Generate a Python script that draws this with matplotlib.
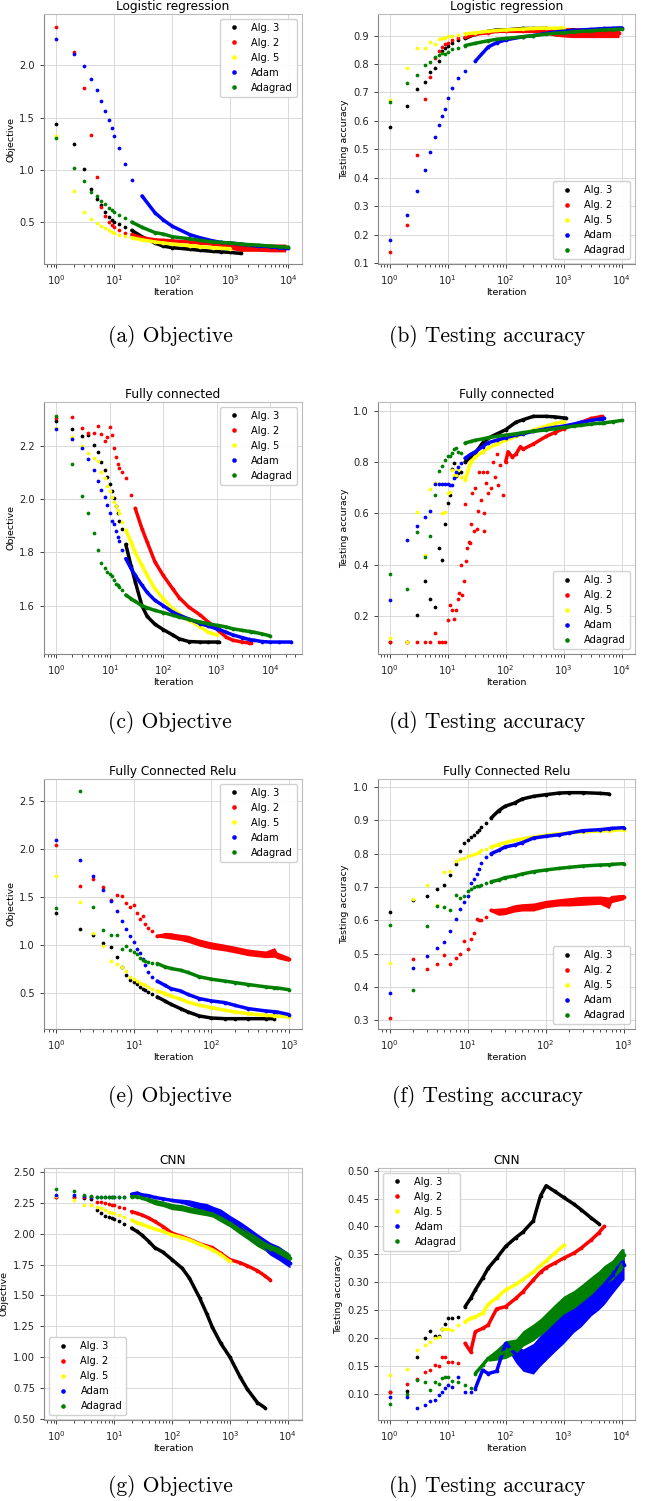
import numpy as np
import matplotlib.pyplot as plt
from matplotlib.lines import Line2D

nan = np.nan

names = ["Alg. 3", "Alg. 2", "Alg. 5", "Adam", "Adagrad"]
colors = ["black", "red", "yellow", "blue", "green"]

# ---------------- Logistic regression (a, b) ----------------
it1 = [1, 2, 3, 4, 5, 6, 7, 8, 9, 10, 12, 15, 20, 30, 50, 70, 100, 200, 300,
       500, 700, 1000, 1500, 2000, 3000, 5000, 7000, 9000, 10000]

a_alg3 = [1.44, 1.25, 1.01, 0.82, 0.72, 0.66, 0.60, 0.55, 0.52, 0.50, 0.48, 0.45, 0.42, 0.36, 0.30,
          0.27, 0.255, 0.24, 0.23, 0.22, 0.215, 0.21, 0.20, nan, nan, nan, nan, nan, nan]
a_alg2 = [2.37, 2.13, 1.78, 1.33, 0.93, 0.64, 0.56, 0.50, 0.47, 0.45, 0.42, 0.40, 0.38, 0.35, 0.33,
          0.325, 0.32, 0.31, 0.30, 0.29, 0.285, 0.27, 0.26, 0.255, 0.255, 0.255, 0.255, 0.255, nan]
a_alg2_lo = [nan] * 19 + [0.28, 0.265, 0.24, 0.22, 0.22, 0.22, 0.215, 0.215, 0.215, nan]
a_alg2_hi = [nan] * 19 + [0.30, 0.305, 0.29, 0.295, 0.295, 0.29, 0.29, 0.29, 0.29, nan]
a_alg5 = [1.32, 0.80, 0.595, 0.53, 0.49, 0.46, 0.44, 0.42, 0.405, 0.395, 0.38, 0.365, 0.35, 0.33, 0.31,
          0.30, 0.29, 0.275, 0.265, 0.255, 0.25, 0.245, nan, nan, nan, nan, nan, nan, nan]
a_adam = [2.25, 2.11, 1.99, 1.87, 1.76, 1.66, 1.56, 1.48, 1.40, 1.32, 1.21, 1.06, 0.90, 0.75, 0.59,
          0.52, 0.46, 0.38, 0.35, 0.32, 0.305, 0.30, 0.29, 0.28, 0.27, 0.265, 0.255, 0.25, 0.25]
a_adagrad = [1.30, 1.02, 0.89, 0.79, 0.745, 0.70, 0.675, 0.635, 0.62, 0.60, 0.57, 0.54, 0.50, 0.45, 0.40,
             0.385, 0.36, 0.34, 0.325, 0.31, 0.305, 0.30, 0.29, 0.285, 0.28, 0.27, 0.265, 0.26, 0.26]

b_alg3 = [0.58, 0.654, 0.711, 0.738, 0.772, 0.785, 0.809, 0.847, 0.855, 0.864, 0.875, 0.885, 0.89, 0.905,
          0.915, 0.92, 0.92, 0.925, 0.925, 0.925, 0.92, 0.915, 0.92, nan, nan, nan, nan, nan, nan]
b_alg2 = [0.137, 0.232, 0.479, 0.677, 0.754, 0.82, 0.847, 0.86, 0.872, 0.875, 0.885, 0.89, 0.895, 0.905,
          0.91, 0.915, 0.915, 0.915, 0.915, 0.915, 0.912, 0.91, 0.91, 0.91, 0.91, 0.91, 0.91, 0.91, nan]
b_alg2_lo = [nan] * 19 + [0.905, 0.898, 0.895, 0.893, 0.893, 0.893, 0.893, 0.893, 0.893, nan]
b_alg2_hi = [nan] * 19 + [0.92, 0.925, 0.928, 0.928, 0.928, 0.928, 0.928, 0.928, 0.928, nan]
b_alg5 = [0.674, 0.785, 0.855, 0.858, 0.878, 0.87, 0.887, 0.89, 0.893, 0.897, 0.90, 0.903, 0.906, 0.91,
          0.915, 0.918, 0.92, 0.923, 0.925, 0.926, 0.926, 0.927, nan, nan, nan, nan, nan, nan, nan]
b_adam = [0.182, 0.268, 0.354, 0.428, 0.492, 0.545, 0.585, 0.618, 0.643, 0.68, 0.715, 0.75, 0.774, 0.81,
          0.86, 0.875, 0.885, 0.896, 0.90, 0.908, 0.912, 0.915, 0.918, 0.92, 0.922, 0.925, 0.926, 0.927, 0.927]
b_adagrad = [0.666, 0.733, 0.763, 0.797, 0.806, 0.826, 0.832, 0.838, 0.836, 0.844, 0.853, 0.858, 0.865,
             0.873, 0.882, 0.887, 0.89, 0.896, 0.90, 0.905, 0.908, 0.91, 0.913, 0.915, 0.917, 0.92, 0.921,
             0.922, 0.922]

# ---------------- Fully connected (c, d) ----------------
it2 = [1, 2, 3, 4, 5, 6, 7, 8, 9, 10, 11, 12, 13, 14, 15, 17, 20, 25, 30, 40, 50, 70, 100, 150, 200,
       300, 500, 700, 1000, 1100, 1500, 2000, 3000, 4000, 4500, 5000, 7000, 10000, 15000, 25000]

c_alg3 = [2.296, 2.265, 2.239, 2.24, 2.203, 2.179, 2.14, 2.11, 2.084, 2.057, 2.033, 2.004, 1.976, 1.95,
          1.92, 1.89, 1.83, 1.75, 1.69, 1.60, 1.56, 1.53, 1.51, 1.49, 1.475, 1.465, 1.463, 1.463, 1.463,
          1.463] + [nan] * 10
c_alg2 = [2.306, 2.31, 2.268, 2.249, 2.249, 2.277, 2.245, 2.221, 2.233, 2.272, 2.243, 2.192, 2.16, 2.132,
          2.117, 2.104, 2.08, 2.016, 1.966, 1.89, 1.84, 1.765, 1.714, 1.664, 1.63, 1.595, 1.564, 1.538,
          1.513, 1.505, 1.482, 1.47, 1.463, 1.46, 1.46] + [nan] * 5
c_alg5 = [2.268, 2.236, 2.2, 2.174, 2.157, 2.145, 2.104, 2.08, 2.05, 2.03, 2.01, 1.99, 1.976, 1.96, 1.947,
          1.916, 1.884, 1.84, 1.80, 1.752, 1.714, 1.664, 1.626, 1.589, 1.57, 1.545, 1.52, 1.50,
          1.49] + [nan] * 11
c_adam = [2.264, 2.228, 2.192, 2.152, 2.11, 2.07, 2.035, 2.01, 1.98, 1.95, 1.918, 1.906, 1.88, 1.86, 1.844,
          1.81, 1.777, 1.74, 1.714, 1.677, 1.65, 1.62, 1.60, 1.576, 1.564, 1.55, 1.532, 1.523, 1.513, 1.511,
          1.50, 1.49, 1.48, 1.473, 1.471, 1.47, 1.465, 1.463, 1.463, 1.463]
c_adagrad = [2.313, 2.132, 2.014, 1.947, 1.874, 1.81, 1.762, 1.742, 1.725, 1.72, 1.71, 1.695, 1.683, 1.677,
             1.67, 1.658, 1.64, 1.626, 1.616, 1.60, 1.592, 1.582, 1.574, 1.564, 1.557, 1.548, 1.538, 1.532,
             1.526, 1.525, 1.52, 1.513, 1.507, 1.503, 1.502, 1.50, 1.494, 1.486, nan, nan]

d_alg3 = [0.10, 0.10, 0.205, 0.335, 0.265, 0.235, 0.463, 0.418, 0.56, 0.642, 0.672, 0.772, 0.795, 0.747,
          0.759, 0.763, 0.80, 0.82, 0.835, 0.874, 0.893, 0.909, 0.926, 0.955, 0.965, 0.978, 0.978, 0.976,
          0.972, 0.971] + [nan] * 10
d_alg2_it = [1, 2, 3, 4, 5, 6, 7, 8, 9, 10, 11, 12, 13, 14, 15, 16, 17, 18, 19, 20, 21, 22, 23, 24, 25, 26,
             28, 30, 32, 34, 35, 37, 40, 42, 43, 45, 48, 50, 55, 60, 65, 70, 75, 80, 90, 100, 110, 130, 150,
             180, 200, 300, 500, 700, 1000, 1500, 2000, 3000, 4000, 4500]
d_alg2 = [0.098, 0.10, 0.10, 0.10, 0.10, 0.134, 0.10, 0.10, 0.10, 0.186, 0.244, 0.222, 0.187, 0.222, 0.265,
          0.29, 0.40, 0.28, 0.335, 0.636, 0.415, 0.465, 0.49, 0.485, 0.56, 0.68, 0.53, 0.70, 0.54, 0.61,
          0.76, 0.65, 0.76, 0.53, 0.60, 0.72, 0.76, 0.68, 0.70, 0.80, 0.74, 0.83, 0.71, 0.79, 0.67, 0.80,
          0.84, 0.82, 0.83, 0.86, 0.85, 0.87, 0.90, 0.915, 0.93, 0.945, 0.955, 0.97, 0.975, 0.978]
d_alg5 = [0.115, 0.10, 0.607, 0.437, 0.694, 0.717, 0.716, 0.60, 0.607, 0.68, 0.682, 0.77, 0.75, 0.75, 0.77,
          0.743, 0.73, 0.80, 0.82, 0.84, 0.855, 0.87, 0.885, 0.90, 0.91, 0.925, 0.94, 0.95,
          0.957] + [nan] * 11
d_adam = [0.261, 0.497, 0.55, 0.587, 0.61, 0.716, 0.716, 0.716, 0.716, 0.716, 0.71, 0.71, 0.737, 0.763,
          0.782, 0.795, 0.815, 0.83, 0.84, 0.86, 0.875, 0.885, 0.895, 0.905, 0.91, 0.92, 0.93, 0.935, 0.94,
          0.942, 0.948, 0.955, 0.962, 0.967, 0.969, 0.971, nan, nan, nan, nan]
d_adagrad = [0.362, 0.304, 0.526, 0.428, 0.511, 0.672, 0.765, 0.786, 0.807, 0.824, 0.824, 0.835, 0.85,
             0.854, 0.84, 0.835, 0.874, 0.88, 0.885, 0.89, 0.895, 0.90, 0.905, 0.91, 0.915, 0.92, 0.925,
             0.93, 0.935, 0.936, 0.94, 0.943, 0.948, 0.951, 0.952, 0.953, 0.957, 0.962, nan, nan]

# ---------------- Fully connected relu (e, f) ----------------
it3 = [1, 2, 3, 4, 5, 6, 7, 8, 9, 10, 11, 12, 13, 14, 15, 17, 20, 25, 30, 40, 50, 70, 100, 150, 200, 300,
       500, 650, 700, 1000]

e_alg3 = [1.33, 1.164, 1.10, 1.014, 0.972, 0.874, 0.77, 0.682, 0.63, 0.612, 0.585, 0.56, 0.54, 0.525,
          0.507, 0.48, 0.455, 0.413, 0.378, 0.332, 0.297, 0.255, 0.234, 0.227, 0.227, 0.227, 0.227, 0.227,
          nan, nan]
e_alg2 = [2.045, 1.62, 1.685, 1.60, 1.47, 1.52, 1.51, 1.44, 1.39, 1.42, 1.33, 1.27, 1.30, 1.22, 1.18, 1.14,
          1.09, 1.10, 1.10, 1.08, 1.06, 1.02, 0.99, 0.97, 0.95, 0.92, 0.90, 0.91, 0.89, 0.85]
e_alg2_lo = [nan] * 16 + [1.08, 1.07, 1.06, 1.045, 1.025, 0.985, 0.955, 0.935, 0.915, 0.885, 0.865, 0.87,
                          0.855, 0.825]
e_alg2_hi = [nan] * 16 + [1.10, 1.13, 1.125, 1.11, 1.10, 1.06, 1.03, 1.005, 0.985, 0.955, 0.935, 0.97,
                          0.925, 0.875]
e_alg5 = [1.72, 1.444, 1.126, 0.99, 0.832, 0.794, 0.763, 0.724, 0.665, 0.647, 0.625, 0.605, 0.59, 0.575,
          0.56, 0.54, 0.517, 0.49, 0.465, 0.43, 0.40, 0.367, 0.342, 0.315, 0.297, 0.28, 0.262, 0.257, 0.255,
          0.245]
e_adam = [2.10, 1.89, 1.72, 1.574, 1.46, 1.35, 1.25, 1.164, 1.094, 1.024, 0.96, 0.91, 0.85, 0.79, 0.717,
          0.665, 0.62, 0.577, 0.542, 0.517, 0.48, 0.437, 0.413, 0.395, 0.367, 0.332, 0.308, 0.30, 0.297, 0.27]
e_adagrad = [1.38, 2.605, 1.39, 1.154, 1.10, 1.105, 0.96, 0.986, 0.944, 0.926, 0.90, 0.857, 0.84, 0.83,
             0.822, 0.81, 0.804, 0.77, 0.752, 0.734, 0.71, 0.665, 0.64, 0.62, 0.605, 0.584, 0.56, 0.55,
             0.549, 0.53]

f_alg3 = [0.626, 0.661, 0.673, 0.695, 0.705, 0.737, 0.769, 0.809, 0.831, 0.842, 0.85, 0.857, 0.865, 0.872,
          0.88, 0.893, 0.907, 0.929, 0.942, 0.952, 0.964, 0.972, 0.977, 0.982, 0.983, 0.983, 0.981, 0.979,
          nan, nan]
f_alg2 = [0.307, 0.483, 0.453, 0.47, 0.495, 0.468, 0.488, 0.498, 0.539, 0.513, 0.543, 0.563, 0.603, 0.60,
          0.60, 0.61, 0.63, 0.626, 0.626, 0.636, 0.64, 0.64, 0.65, 0.656, 0.656, 0.66, 0.661, 0.66, 0.666,
          0.671]
f_alg2_lo = [nan] * 16 + [0.625, 0.615, 0.617, 0.625, 0.628, 0.628, 0.638, 0.643, 0.643, 0.645, 0.648, 0.635,
                          0.653, 0.662]
f_alg2_hi = [nan] * 16 + [0.635, 0.637, 0.638, 0.647, 0.65, 0.652, 0.66, 0.665, 0.668, 0.672, 0.673, 0.67,
                          0.675, 0.678]
f_alg5 = [0.473, 0.664, 0.706, 0.646, 0.745, 0.749, 0.779, 0.783, 0.788, 0.793, 0.796, 0.80, 0.803, 0.806,
          0.81, 0.815, 0.82, 0.827, 0.833, 0.84, 0.844, 0.85, 0.855, 0.86, 0.862, 0.865, 0.868, 0.869, 0.87,
          0.872]
f_adam = [0.383, 0.457, 0.494, 0.518, 0.534, 0.569, 0.604, 0.635, 0.655, 0.674, 0.711, 0.725, 0.738, 0.755,
          0.771, 0.791, 0.80, 0.81, 0.82, 0.826, 0.833, 0.847, 0.852, 0.857, 0.862, 0.869, 0.872, 0.875,
          0.876, 0.878]
f_adagrad = [0.586, 0.39, 0.583, 0.644, 0.641, 0.631, 0.675, 0.667, 0.672, 0.689, 0.693, 0.70, 0.702, 0.704,
             0.706, 0.712, 0.716, 0.721, 0.728, 0.733, 0.739, 0.746, 0.751, 0.756, 0.759, 0.763, 0.766,
             0.767, 0.768, 0.77]

# ---------------- CNN (g, h) ----------------
it4 = [1, 2, 3, 4, 5, 6, 7, 8, 9, 10, 12, 15, 20, 25, 30, 40, 50, 70, 100, 150, 200, 300, 400, 500, 700,
       1000, 1500, 2000, 3000, 4000, 5000, 7000, 10000, 11000]

g_alg3 = [2.30, 2.295, 2.29, 2.28, 2.194, 2.17, 2.145, 2.134, 2.126, 2.118, 2.10, 2.077, 2.045, 2.018, 1.99,
          1.936, 1.888, 1.85, 1.79, 1.72, 1.64, 1.48, 1.35, 1.24, 1.11, 1.0, 0.84, 0.74, 0.63,
          0.59] + [nan] * 4
g_alg2 = [2.30, 2.30, 2.30, 2.30, 2.26, 2.255, 2.25, 2.24, 2.235, 2.23, 2.22, 2.21, 2.18, 2.165, 2.153,
          2.126, 2.10, 2.058, 2.004, 1.977, 1.955, 1.92, 1.90, 1.888, 1.84, 1.79, 1.765, 1.74, 1.70, 1.66,
          1.625, nan, nan, nan]
g_alg5 = [2.305, 2.275, 2.23, 2.23, 2.215, 2.21, 2.19, 2.18, 2.172, 2.167, 2.153, 2.137, 2.11, 2.09, 2.077,
          2.055, 2.04, 2.018, 1.99, 1.969, 1.95, 1.915, 1.89, 1.87, 1.83, 1.775] + [nan] * 8
g_adam = [2.31, 2.31, 2.305, 2.30, 2.30, 2.30, 2.30, 2.30, 2.30, 2.30, 2.30, 2.30, 2.32, 2.33, 2.316, 2.308,
          2.294, 2.283, 2.27, 2.26, 2.25, 2.22, 2.20, 2.18, 2.153, 2.10, 2.045, 1.99, 1.936, 1.90, 1.855,
          1.815, 1.774, 1.76]
g_adam_lo = [nan] * 18 + [2.26, 2.245, 2.225, 2.195, 2.175, 2.155, 2.125, 2.075, 2.015, 1.965, 1.905, 1.865,
                          1.825, 1.785, 1.735, 1.725]
g_adam_hi = [nan] * 18 + [2.28, 2.28, 2.275, 2.255, 2.245, 2.225, 2.20, 2.15, 2.10, 2.06, 2.00, 1.96, 1.93,
                          1.90, 1.85, 1.83]
g_adagrad = [2.364, 2.35, 2.316, 2.308, 2.30, 2.30, 2.30, 2.30, 2.30, 2.30, 2.30, 2.30, 2.30, 2.30, 2.29,
             2.275, 2.256, 2.243, 2.22, 2.21, 2.194, 2.18, 2.17, 2.16, 2.126, 2.085, 2.03, 1.99, 1.936, 1.90,
             1.88, 1.855, 1.815, 1.80]
g_adagrad_lo = [nan] * 14 + [2.28, 2.255, 2.235, 2.22, 2.195, 2.185, 2.17, 2.155, 2.145, 2.135, 2.095, 2.055,
                             1.995, 1.955, 1.895, 1.865, 1.845, 1.82, 1.78, 1.765]
g_adagrad_hi = [nan] * 14 + [2.30, 2.295, 2.28, 2.265, 2.245, 2.235, 2.22, 2.205, 2.195, 2.185, 2.155, 2.115,
                             2.065, 2.025, 1.975, 1.935, 1.915, 1.89, 1.85, 1.835]

h_alg3 = [0.103, 0.105, 0.166, 0.20, 0.212, 0.203, 0.204, 0.215, 0.225, 0.235, 0.236, 0.238, 0.256, 0.271,
          0.286, 0.307, 0.325, 0.343, 0.364, 0.38, 0.39, 0.41, 0.455, 0.473, 0.463, 0.452, 0.44, 0.43,
          0.415, 0.405] + [nan] * 4
h_alg2 = [0.103, 0.118, 0.127, 0.139, 0.142, 0.151, 0.149, 0.166, 0.166, 0.156, 0.157, 0.155, 0.19, 0.175,
          0.211, 0.217, 0.223, 0.252, 0.256, 0.271, 0.283, 0.304, 0.318, 0.326, 0.334, 0.343, 0.352, 0.361,
          0.376, 0.388, 0.40, nan, nan, nan]
h_alg5 = [0.133, 0.145, 0.179, 0.188, 0.193, 0.199, 0.202, 0.216, 0.216, 0.216, 0.214, 0.223, 0.229, 0.235,
          0.238, 0.244, 0.26, 0.272, 0.286, 0.296, 0.305, 0.318, 0.33, 0.338, 0.352, 0.366] + [nan] * 8
h_adam = [0.094, 0.094, 0.074, 0.079, 0.087, 0.088, 0.097, 0.103, 0.11, 0.115, 0.112, 0.13, 0.103, 0.103,
          0.109, 0.142, 0.136, 0.14, 0.19, 0.17, 0.16, 0.165, 0.18, 0.19, 0.205, 0.223, 0.241, 0.253,
          0.271, 0.285, 0.295, 0.313, 0.343, 0.331]
h_adam_lo = [nan] * 18 + [0.185, 0.155, 0.14, 0.135, 0.15, 0.16, 0.175, 0.19, 0.21, 0.22, 0.24, 0.25, 0.26,
                          0.28, 0.30, 0.305]
h_adam_hi = [nan] * 18 + [0.195, 0.185, 0.18, 0.19, 0.205, 0.215, 0.235, 0.25, 0.27, 0.28, 0.30, 0.31, 0.32,
                          0.34, 0.36, 0.355]
h_adagrad = [0.082, 0.10, 0.124, 0.121, 0.107, 0.12, 0.118, 0.128, 0.13, 0.129, 0.123, 0.121, 0.115, 0.11,
             0.136, 0.151, 0.163, 0.169, 0.175, 0.184, 0.199, 0.211, 0.22, 0.229, 0.244, 0.259, 0.271, 0.28,
             0.295, 0.305, 0.313, 0.325, 0.343, 0.349]
h_adagrad_lo = [nan] * 16 + [0.158, 0.16, 0.163, 0.172, 0.185, 0.195, 0.205, 0.213, 0.228, 0.243, 0.253,
                             0.263, 0.278, 0.288, 0.295, 0.305, 0.322, 0.332]
h_adagrad_hi = [nan] * 16 + [0.168, 0.18, 0.195, 0.198, 0.213, 0.225, 0.235, 0.245, 0.26, 0.275, 0.285,
                             0.295, 0.31, 0.32, 0.33, 0.34, 0.36, 0.36]


def draw(ax, series, bands, title, ylabel, xlim, ylim, yticks, loc, line_from=None):
    line_from = line_from or {}
    for k, (n, v) in enumerate(series):
        n = np.asarray(n, float)
        v = np.asarray(v, float)
        c = colors[k]
        if k in bands:
            lo = np.asarray(bands[k][0], float)
            hi = np.asarray(bands[k][1], float)
            m = np.isfinite(lo)
            ax.fill_between(n[m], lo[m], hi[m], color=c, lw=0)
        m = np.isfinite(v) & (n >= line_from.get(k, 20))
        ax.plot(n[m], v[m], "-", color=c, lw=2.5, solid_capstyle="round")
        m = np.isfinite(v)
        ax.plot(n[m], v[m], "o", ms=2.7, mew=0, color=c)
    ax.set_xscale("log")
    ax.set_xlim(*xlim)
    ax.set_ylim(*ylim)
    ax.set_yticks(yticks)
    ax.set_title(title, fontsize=8.7, pad=3)
    ax.set_xlabel("Iteration", fontsize=6.8, labelpad=1)
    ax.set_ylabel(ylabel, fontsize=6.8, labelpad=3)
    ax.tick_params(labelsize=7.1, colors="#222222", length=3, width=0.6)
    ax.tick_params(which="minor", length=1.8, width=0.5)
    ax.grid(True, which="major", color="#d9d9d9", lw=0.7)
    ax.set_axisbelow(True)
    for s in ["left", "bottom"]:
        ax.spines[s].set_color("#888888")
    for s in ["top", "right"]:
        ax.spines[s].set_color("#bbbbbb")
    handles = [Line2D([], [], ls="", marker="o", ms=3.3, mew=0, color=c) for c in colors]
    ax.legend(handles, names, loc=loc, fontsize=7.1, framealpha=0.9, edgecolor="#cccccc")


fig = plt.figure(figsize=(6.49, 15.01), dpi=100)
W, H = 649.0, 1501.0


def make_axes(left, top, width, height):
    return fig.add_axes([left / W, 1 - (top + height) / H, width / W, height / H])


lefts = [44, 378]
widths = [258, 257]
tops = [14, 402, 779, 1168]
heights = [250, 252, 250, 252]
axs = [[make_axes(lefts[j], tops[i], widths[j], heights[i]) for j in range(2)] for i in range(4)]

draw(axs[0][0], [(it1, a_alg3), (it1, a_alg2), (it1, a_alg5), (it1, a_adam), (it1, a_adagrad)],
     {1: (a_alg2_lo, a_alg2_hi)}, "Logistic regression", "Objective",
     (10 ** -0.213, 10 ** 4.236), (0.099, 2.49), [0.5, 1.0, 1.5, 2.0], "upper right",
     line_from={3: 30})
draw(axs[0][1], [(it1, b_alg3), (it1, b_alg2), (it1, b_alg5), (it1, b_adam), (it1, b_adagrad)],
     {1: (b_alg2_lo, b_alg2_hi)}, "Logistic regression", "Testing accuracy",
     (10 ** -0.2, 10 ** 4.23), (0.0965, 0.976), np.arange(0.1, 0.95, 0.1), "lower right",
     line_from={3: 30})
draw(axs[1][0], [(it2, c_alg3), (it2, c_alg2), (it2, c_alg5), (it2, c_adam), (it2, c_adagrad)],
     {}, "Fully connected", "Objective",
     (10 ** -0.231, 10 ** 4.6), (1.418, 2.366), [1.6, 1.8, 2.0, 2.2], "upper right",
     line_from={1: 30})
draw(axs[1][1], [(it2, d_alg3), (d_alg2_it, d_alg2), (it2, d_alg5), (it2, d_adam), (it2, d_adagrad)],
     {}, "Fully connected", "Testing accuracy",
     (10 ** -0.2, 10 ** 4.23), (0.0515, 1.034), [0.2, 0.4, 0.6, 0.8, 1.0], "lower right",
     line_from={1: 100})
draw(axs[2][0], [(it3, e_alg3), (it3, e_alg2), (it3, e_alg5), (it3, e_adam), (it3, e_adagrad)],
     {1: (e_alg2_lo, e_alg2_hi)}, "Fully Connected Relu", "Objective",
     (10 ** -0.159, 10 ** 3.168), (0.119, 2.734), [0.5, 1.0, 1.5, 2.0, 2.5], "upper right")
draw(axs[2][1], [(it3, f_alg3), (it3, f_alg2), (it3, f_alg5), (it3, f_adam), (it3, f_adagrad)],
     {1: (f_alg2_lo, f_alg2_hi)}, "Fully Connected Relu", "Testing accuracy",
     (10 ** -0.149, 10 ** 3.145), (0.274, 1.024), np.arange(0.3, 1.05, 0.1), "lower right")
draw(axs[3][0], [(it4, g_alg3), (it4, g_alg2), (it4, g_alg5), (it4, g_adam), (it4, g_adagrad)],
     {3: (g_adam_lo, g_adam_hi), 4: (g_adagrad_lo, g_adagrad_hi)}, "CNN", "Objective",
     (10 ** -0.213, 10 ** 4.248), (0.489, 2.533), np.arange(0.5, 2.55, 0.25), "lower left")
draw(axs[3][1], [(it4, h_alg3), (it4, h_alg2), (it4, h_alg5), (it4, h_adam), (it4, h_adagrad)],
     {3: (h_adam_lo, h_adam_hi), 4: (h_adagrad_lo, h_adagrad_hi)}, "CNN", "Testing accuracy",
     (10 ** -0.2, 10 ** 4.23), (0.0526, 0.5048), np.arange(0.1, 0.51, 0.05), "upper left",
     line_from={3: 30, 4: 30})
axs[3][0].yaxis.set_major_formatter(plt.FormatStrFormatter("%.2f"))
axs[3][1].yaxis.set_major_formatter(plt.FormatStrFormatter("%.2f"))
axs[0][1].yaxis.set_major_formatter(plt.FormatStrFormatter("%.1f"))
axs[2][1].yaxis.set_major_formatter(plt.FormatStrFormatter("%.1f"))

captions = [("(a) Objective", "(b) Testing accuracy"),
            ("(c) Objective", "(d) Testing accuracy"),
            ("(e) Objective", "(f) Testing accuracy"),
            ("(g) Objective", "(h) Testing accuracy")]
cap_y = [336, 722, 1097, 1487]
for i, (left_cap, right_cap) in enumerate(captions):
    fig.text(170 / W, 1 - cap_y[i] / H, left_cap, ha="center", va="center",
             fontsize=15.5, family="cmr10")
    fig.text(487 / W, 1 - cap_y[i] / H, right_cap, ha="center", va="center",
             fontsize=15.5, family="cmr10")

fig.savefig("out.png", dpi=100)
